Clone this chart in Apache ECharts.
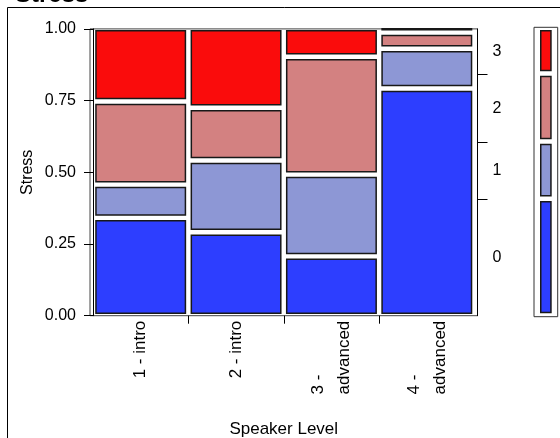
<!DOCTYPE html>
<html>
<head>
<meta charset="utf-8">
<script src="https://cdn.jsdelivr.net/npm/echarts@6/dist/echarts.min.js"></script>
<style>
html,body{margin:0;padding:0;background:#fff;}
#chart{width:560px;height:438px;}
</style>
</head>
<body>
<div id="chart"></div>
<script>
// ---- data ----
var categories = ['1 - intro', '2 - intro', '3 -\nadvanced', '4 -\nadvanced'];
var levels = ['0', '1', '2', '3'];
var stress0 = [0.341, 0.291, 0.207, 0.792];
var stress1 = [0.116, 0.250, 0.285, 0.139];
var stress2 = [0.290, 0.184, 0.411, 0.056];
var stress3 = [0.253, 0.275, 0.097, 0.013];
var yTicks = [0, 0.25, 0.5, 0.75, 1];

var levelColors = ['#2D3EFF', '#8D97D5', '#D38181', '#FA0C0C'];
var series = [stress0, stress1, stress2, stress3];

// cells for mosaic
var cells = [];
for (var c = 0; c < categories.length; c++) {
  var cum = 0;
  for (var l = 0; l < levels.length; l++) {
    var v = series[l][c];
    cells.push([c, cum, cum + v, l]);
    cum += v;
  }
}
// marginal (equal-width columns)
var marg = levels.map(function (_, l) {
  var s = 0; for (var c = 0; c < categories.length; c++) s += series[l][c];
  return s / categories.length;
});
var legendCells = [], bounds = [], mids = [];
var acc = 0;
for (var l = 0; l < levels.length; l++) {
  legendCells.push([0, acc, acc + marg[l], l]);
  mids.push(acc + marg[l] / 2);
  acc += marg[l];
  if (l < levels.length - 1) bounds.push(acc);
}

function makeRender(insetX, endTop, endBot, gap) {
  return function (params, api) {
    var i = api.value(0), s = api.value(1), e = api.value(2), lv = api.value(3);
    var pTL = api.coord([i, e]);
    var pBR = api.coord([i + 1, s]);
    var x0 = pTL[0] + insetX, x1 = pBR[0] - insetX;
    var y0 = pTL[1] + (e >= 0.9999 ? endTop : gap);
    var y1 = pBR[1] - (s <= 0.0001 ? endBot : gap);
    if (y1 - y0 < 2.5) y0 = y1 - 2.5;
    var lw = 1.5;
    return {
      type: 'rect',
      shape: { x: x0 + lw / 2, y: y0 + lw / 2, width: x1 - x0 - lw, height: y1 - y0 - lw },
      style: { fill: levelColors[lv], stroke: '#181818', lineWidth: lw }
    };
  };
}

var font = 'Liberation Sans, Arial, Helvetica, sans-serif';
var chart = echarts.init(document.getElementById('chart'), null, { renderer: 'canvas' });
chart.setOption({
  animation: false,
  textStyle: { fontFamily: font, color: '#000' },
  title: {
    text: 'Stress', left: 10, top: -22,
    textStyle: { fontFamily: font, fontSize: 24, fontWeight: 'bold', color: '#000' }
  },
  graphic: [
    { type: 'rect', shape: { x: 7.5, y: 7.5, width: 600, height: 500 }, style: { fill: 'none', stroke: '#000', lineWidth: 1 }, z: 0 },
    { type: 'rect', shape: { x: 90, y: 28.9, width: 387.5, height: 286.8 }, style: { fill: 'none', stroke: '#444', lineWidth: 1 }, z: 0 }
  ],
  grid: [
    { left: 93, right: 85.5, top: 28.9, bottom: 122.3, containLabel: false, outerBoundsMode: 'none' },
    { left: 534, right: 2.3, top: 27.3, bottom: 121.3, containLabel: false, outerBoundsMode: 'none',
      show: true, borderColor: '#333', borderWidth: 1, backgroundColor: 'transparent' }
  ],
  xAxis: [
    {
      type: 'value', gridIndex: 0, min: 0, max: categories.length,
      name: 'Speaker Level', nameLocation: 'middle', nameGap: 105, nameMoveOverlap: false,
      nameTextStyle: { fontSize: 17, fontFamily: font, color: '#000' },
      axisLine: { show: false },
      splitLine: { show: false },
      axisTick: { show: true, length: 8, lineStyle: { color: '#000', width: 1 },
        customValues: categories.slice(1).map(function (_, i) { return i + 1; }) },
      axisLabel: {
        show: true, rotate: 90, margin: 5,
        customValues: categories.map(function (_, i) { return i + 0.5; }),
        formatter: function (v) {
          var idx = Math.floor(v);
          var t = categories[idx] || '';
          return t.split('\n').map(function (s) { return '{a|' + s + '}'; }).join('\n');
        },
        rich: { a: { fontSize: 17, fontFamily: font, color: '#000', align: 'left', lineHeight: 26 } }
      }
    },
    { type: 'value', gridIndex: 1, min: 0, max: 1, show: false }
  ],
  yAxis: [
    {
      type: 'value', gridIndex: 0, min: 0, max: 1, interval: 0.25, offset: 3,
      name: 'Stress', nameLocation: 'middle', nameGap: 54, nameMoveOverlap: false,
      nameTextStyle: { fontSize: 16, fontFamily: font, color: '#000' },
      axisLine: { show: true, lineStyle: { color: '#000', width: 1 } },
      axisTick: { show: true, length: 9, lineStyle: { color: '#000' } },
      splitLine: { show: false },
      axisLabel: { fontSize: 16, color: '#000', margin: 14,
        customValues: yTicks,
        formatter: function (v) { return v.toFixed(2); } }
    },
    {
      type: 'value', gridIndex: 0, min: 0, max: 1, position: 'right', offset: 3,
      axisLine: { show: true, lineStyle: { color: '#000', width: 1 } },
      axisTick: { show: true, length: 10, lineStyle: { color: '#000' }, customValues: bounds },
      splitLine: { show: false },
      axisLabel: { fontSize: 16, color: '#000', margin: 15, padding: [7, 0, 0, 0],
        customValues: mids,
        formatter: function (v) {
          var best = 0, bd = 1e9;
          for (var k = 0; k < mids.length; k++) { var d = Math.abs(mids[k] - v); if (d < bd) { bd = d; best = k; } }
          return levels[best];
        } }
    },
    { type: 'value', gridIndex: 1, min: 0, max: 1, show: false }
  ],
  series: [
    {
      type: 'custom', xAxisIndex: 0, yAxisIndex: 0, clip: false,
      renderItem: makeRender(2.2, 1.1, 1.7, 2.2),
      data: cells
    },
    {
      type: 'custom', xAxisIndex: 1, yAxisIndex: 2, clip: false,
      renderItem: makeRender(6, 2.7, 3.4, 2.2),
      data: legendCells
    }
  ]
});
</script>
</body>
</html>
